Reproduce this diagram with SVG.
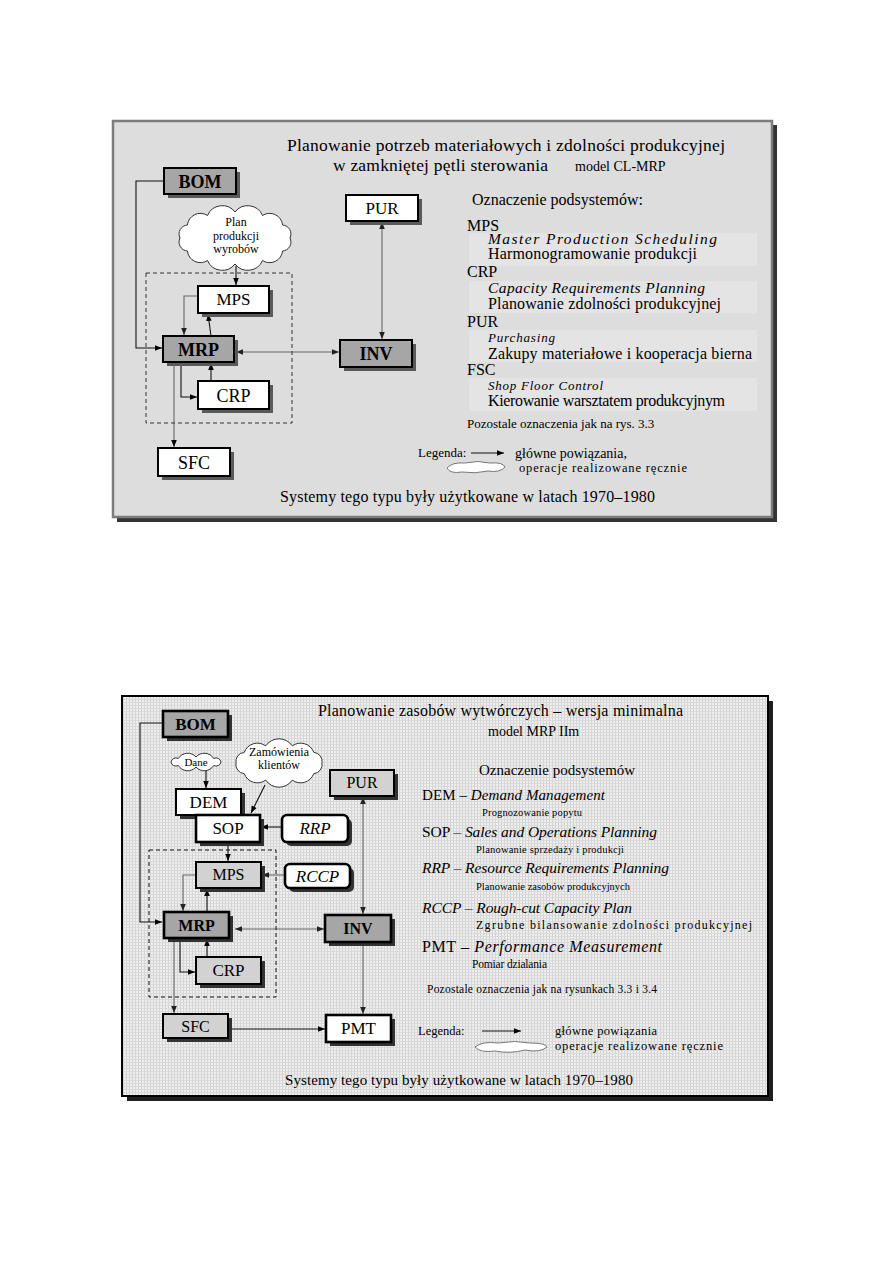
<svg xmlns="http://www.w3.org/2000/svg" width="893" height="1263" viewBox="0 0 893 1263">
<style>
.t{font-family:"Liberation Serif","Times New Roman",serif;fill:#000}
.m{text-anchor:middle}
.b{font-weight:bold}
.i{font-style:italic}
.bx{stroke:#000;stroke-width:2}
.bxt{stroke:#000;stroke-width:2.6}
.w{fill:#fff}
.g{fill:#a6a6a6}
.lg{fill:#d2d2d2}
.sh{fill:#5a5a5a}
.sh2{fill:#333}
.c{fill:none;stroke:#111;stroke-width:1.1}
.cg{fill:none;stroke:#666;stroke-width:1.1}
.cloud{fill:#fff;stroke:#333;stroke-width:1}
.lcloud{fill:#fff;stroke:#777;stroke-width:1}
.band{fill:#e4e4e4}
</style>
<defs>
<marker id="ah" viewBox="0 0 10 10" refX="10" refY="5" markerUnits="userSpaceOnUse" markerWidth="7" markerHeight="7" orient="auto-start-reverse"><path d="M0,1 L10,5 L0,9 z" fill="#000"/></marker>
<marker id="ahg" viewBox="0 0 10 10" refX="10" refY="5" markerUnits="userSpaceOnUse" markerWidth="7" markerHeight="7" orient="auto-start-reverse"><path d="M0,1 L10,5 L0,9 z" fill="#222"/></marker>
<pattern id="tex" width="3" height="3" patternUnits="userSpaceOnUse"><rect width="3" height="3" fill="#eeeeee"/><rect width="1" height="3" fill="#d3d3d3"/><rect width="3" height="1" fill="#dadada"/></pattern>
</defs>

<!-- ================= TOP PANEL ================= -->
<g id="panel-top">
<rect x="117" y="125" width="660" height="397" fill="#333"/>
<rect x="113" y="121" width="659" height="396" fill="#dddddd" stroke="#7c7c7c" stroke-width="2.5"/>
<rect class="band" x="469" y="233" width="288" height="33"/>
<rect class="band" x="469" y="281" width="288" height="32"/>
<rect class="band" x="469" y="330" width="288" height="32"/>
<rect class="band" x="469" y="378" width="288" height="33"/>
<text class="t" x="287" y="151" font-size="17.5" textLength="438">Planowanie potrzeb materiałowych i zdolności produkcyjnej</text>
<text class="t" x="333" y="171" font-size="17.5" textLength="215">w zamkniętej pętli sterowania</text>
<text class="t" x="575" y="171" font-size="14">model CL-MRP</text>
<text class="t" x="472" y="205" font-size="16">Oznaczenie podsystemów:</text>
<text class="t" x="467" y="231" font-size="16">MPS</text>
<text class="t i" x="488" y="244" font-size="15.5" textLength="229">Master Production Scheduling</text>
<text class="t" x="488" y="259" font-size="16" textLength="209">Harmonogramowanie produkcji</text>
<text class="t" x="467" y="277" font-size="16">CRP</text>
<text class="t i" x="488" y="293" font-size="15.5" textLength="217">Capacity Requirements Planning</text>
<text class="t" x="488" y="309" font-size="16" textLength="233">Planowanie zdolności produkcyjnej</text>
<text class="t" x="467" y="327" font-size="16">PUR</text>
<text class="t i" x="488" y="342" font-size="13" textLength="67">Purchasing</text>
<text class="t" x="488" y="359" font-size="16" textLength="264">Zakupy materiałowe i kooperacja bierna</text>
<text class="t" x="467" y="375" font-size="16">FSC</text>
<text class="t i" x="488" y="390" font-size="13" textLength="115">Shop Floor Control</text>
<text class="t" x="488" y="406" font-size="16" textLength="237">Kierowanie warsztatem produkcyjnym</text>
<text class="t" x="467" y="428" font-size="13">Pozostale oznaczenia jak na rys. 3.3</text>
<text class="t" x="418" y="457" font-size="13">Legenda:</text>
<line class="c" x1="471" y1="453" x2="504" y2="453" marker-end="url(#ah)"/>
<text class="t" x="515" y="458" font-size="14">główne powiązania,</text>
<path class="lcloud" d="M447,468 Q452,462 465,463 Q478,460 490,463 Q503,462 505,467 Q500,473 488,471 Q475,474 462,472 Q450,474 447,468 Z"/>
<text class="t" x="519" y="472" font-size="12.5" textLength="168">operacje realizowane ręcznie</text>
<text class="t" x="280" y="502" font-size="16" textLength="375">Systemy tego typu były użytkowane w latach 1970–1980</text>
</g>

<g id="connectors-top">
<polyline class="c" points="164,181 136,181 136,348 162,348" marker-end="url(#ah)"/>
<line class="c" x1="236" y1="266" x2="236" y2="285" stroke-width="2" marker-end="url(#ah)"/>
<polyline class="cg" points="198,296 184,296 184,335" marker-end="url(#ahg)"/>
<line class="c" x1="211" y1="336" x2="208" y2="314" marker-end="url(#ah)"/>
<line class="cg" x1="236" y1="352" x2="339" y2="352" marker-start="url(#ahg)" marker-end="url(#ahg)"/>
<line class="cg" x1="382" y1="222" x2="382" y2="339" marker-start="url(#ahg)" marker-end="url(#ahg)"/>
<polyline class="c" points="181,362 181,397 197,397" marker-end="url(#ah)"/>
<line class="c" x1="211" y1="381" x2="211" y2="363" marker-end="url(#ah)"/>
<line class="cg" x1="174" y1="363" x2="174" y2="447" marker-end="url(#ah)"/>
</g>

<rect id="group-top" x="146" y="273" width="146" height="150" fill="none" stroke="#333" stroke-width="1" stroke-dasharray="4,3"/>

<g id="cloud-plan">
<path class="cloud" d="M290,238 A9,9 0 0 1 282.6,251 A13,13 0 0 1 262.5,260.5 A16,16 0 0 1 235,264 A16,16 0 0 1 207.5,260.5 A13,13 0 0 1 187.4,251 A9,9 0 0 1 180,238 A9,9 0 0 1 187.4,225 A13,13 0 0 1 207.5,215.5 A16,16 0 0 1 235,212 A16,16 0 0 1 262.5,215.5 A13,13 0 0 1 282.6,225 A9,9 0 0 1 290,238 Z"/>
<text class="t m" x="236" y="226" font-size="12">Plan</text>
<text class="t m" x="236" y="239.5" font-size="12">produkcji</text>
<text class="t m" x="236" y="253" font-size="12">wyrobów</text>
</g>

<g id="t-BOM"><rect class="sh" x="168" y="172" width="72" height="26"/><rect class="bx g" x="164" y="168" width="72" height="26"/><text class="t m b" x="200" y="188" font-size="18">BOM</text></g>
<g id="t-PUR"><rect class="sh" x="350" y="199" width="72" height="26"/><rect class="bx w" x="346" y="195" width="72" height="26"/><text class="t m" x="382" y="214" font-size="17">PUR</text></g>
<g id="t-MPS"><rect class="sh" x="202" y="290" width="71" height="27"/><rect class="bx w" x="198" y="286" width="71" height="27"/><text class="t m" x="233.5" y="305" font-size="17">MPS</text></g>
<g id="t-MRP"><rect class="sh" x="167" y="340" width="71" height="26"/><rect class="bx g" x="163" y="336" width="71" height="26"/><text class="t m b" x="198.5" y="356" font-size="18">MRP</text></g>
<g id="t-INV"><rect class="sh" x="344" y="344" width="72" height="27"/><rect class="bx g" x="340" y="340" width="72" height="27"/><text class="t m b" x="376" y="360" font-size="18">INV</text></g>
<g id="t-CRP"><rect class="sh" x="202" y="385" width="71" height="28"/><rect class="bx w" x="198" y="381" width="71" height="28"/><text class="t m" x="233.5" y="402" font-size="18">CRP</text></g>
<g id="t-SFC"><rect class="sh" x="162" y="452" width="72" height="28"/><rect class="bx w" x="158" y="448" width="72" height="28"/><text class="t m" x="194" y="469" font-size="18">SFC</text></g>

<!-- ================= BOTTOM PANEL ================= -->
<g id="panel-bottom">
<rect x="127" y="701" width="646" height="400" fill="#1e1e1e"/>
<rect x="122" y="696" width="646" height="400" fill="url(#tex)" stroke="#000" stroke-width="2"/>
<text class="t" x="318" y="716" font-size="16" textLength="365">Planowanie zasobów wytwórczych – wersja minimalna</text>
<text class="t" x="488" y="736" font-size="14">model MRP IIm</text>
<text class="t" x="479" y="775" font-size="15">Oznaczenie podsystemów</text>
<text class="t" x="422" y="800" font-size="15" textLength="183">DEM – <tspan class="i">Demand Management</tspan></text>
<text class="t" x="482" y="816" font-size="10.5" textLength="100">Prognozowanie popytu</text>
<text class="t" x="422" y="837" font-size="15.5" textLength="235">SOP – <tspan class="i">Sales and Operations Planning</tspan></text>
<text class="t" x="476" y="853" font-size="10.5" textLength="148">Planowanie sprzedaży i produkcji</text>
<text class="t i" x="422" y="873" font-size="15.5" textLength="247">RRP – Resource Requirements Planning</text>
<text class="t" x="476" y="890" font-size="10.5" textLength="154">Planowanie zasobów produkcyjnych</text>
<text class="t i" x="422" y="913" font-size="15.5" textLength="210">RCCP – Rough-cut Capacity Plan</text>
<text class="t" x="476" y="929" font-size="12" textLength="276">Zgrubne bilansowanie zdolności produkcyjnej</text>
<text class="t" x="422" y="952" font-size="16" textLength="240">PMT – <tspan class="i">Performance Measurement</tspan></text>
<text class="t" x="472" y="968" font-size="11.5" textLength="75">Pomiar dzialania</text>
<text class="t" x="427" y="993" font-size="11.5" textLength="230">Pozostale oznaczenia jak na rysunkach 3.3 i 3.4</text>
<text class="t" x="418" y="1035" font-size="12.5">Legenda:</text>
<line class="c" x1="482" y1="1031" x2="521" y2="1031" marker-end="url(#ah)"/>
<text class="t" x="555" y="1035" font-size="12.5" textLength="102">główne powiązania</text>
<path class="lcloud" d="M475,1047 Q482,1041 498,1043 Q515,1040 530,1043 Q546,1043 547,1047 Q540,1053 525,1050 Q510,1054 495,1051 Q480,1053 475,1047 Z"/>
<text class="t" x="555" y="1050" font-size="12.5" textLength="168">operacje realizowane ręcznie</text>
<text class="t" x="285" y="1085" font-size="15" textLength="348">Systemy tego typu były użytkowane w latach 1970–1980</text>
</g>

<g id="connectors-bottom">
<polyline class="c" points="163,723 140,723 140,922 162,922" marker-end="url(#ah)"/>
<line class="c" x1="206" y1="770" x2="206" y2="788" marker-end="url(#ah)"/>
<line class="c" x1="265" y1="785" x2="251" y2="813" marker-end="url(#ah)"/>
<line class="c" x1="282" y1="827" x2="261" y2="827" marker-end="url(#ah)"/>
<line class="c" x1="228" y1="842" x2="228" y2="861" marker-end="url(#ah)"/>
<line class="cg" x1="285" y1="875" x2="262" y2="875" marker-end="url(#ahg)"/>
<polyline class="cg" points="196,875 183,875 183,911" marker-end="url(#ahg)"/>
<line class="c" x1="207" y1="912" x2="207" y2="889" marker-end="url(#ah)"/>
<line class="cg" x1="235" y1="929" x2="324" y2="929" marker-start="url(#ahg)" marker-end="url(#ahg)"/>
<line class="cg" x1="363" y1="797" x2="363" y2="914" marker-start="url(#ahg)" marker-end="url(#ahg)"/>
<line class="cg" x1="363" y1="942" x2="363" y2="1014" marker-end="url(#ahg)"/>
<polyline class="c" points="180,938 180,972 195,972" marker-end="url(#ah)"/>
<line class="c" x1="207" y1="957" x2="207" y2="939" marker-end="url(#ah)"/>
<line class="cg" x1="174" y1="938" x2="174" y2="1013" marker-end="url(#ahg)"/>
<line class="c" x1="229" y1="1029" x2="325" y2="1029" marker-end="url(#ah)"/>
</g>

<rect id="group-bottom" x="149" y="850" width="127" height="147" fill="none" stroke="#111" stroke-width="1" stroke-dasharray="4,3"/>

<g id="cloud-dane">
<path class="cloud" d="M221,762 A5,5 0 0 1 213.7,765.5 A11,11 0 0 1 196,767 A11,11 0 0 1 178.3,765.5 A5,5 0 0 1 171,762 A5,5 0 0 1 178.3,758.5 A11,11 0 0 1 196,757 A11,11 0 0 1 213.7,758.5 A5,5 0 0 1 221,762 Z"/>
<text class="t m" x="196" y="766" font-size="11">Dane</text>
</g>
<g id="cloud-zamowienia">
<path class="cloud" d="M322,763 A9,9 0 0 1 313.8,773.6 A14,14 0 0 1 292.3,780.1 A16,16 0 0 1 265.7,780.1 A14,14 0 0 1 244.2,773.6 A9,9 0 0 1 236,763 A9,9 0 0 1 244.2,752.4 A14,14 0 0 1 265.7,745.9 A16,16 0 0 1 292.3,745.9 A14,14 0 0 1 313.8,752.4 A9,9 0 0 1 322,763 Z"/>
<text class="t m" x="279" y="756" font-size="12">Zamówienia</text>
<text class="t m" x="279" y="769" font-size="12">klientów</text>
</g>

<g id="b-BOM"><rect class="sh2" x="167" y="715" width="65" height="26"/><rect class="bxt g" x="163" y="711" width="65" height="26"/><text class="t m b" x="195.5" y="730" font-size="17">BOM</text></g>
<g id="b-DEM"><rect class="sh2" x="180" y="793" width="65" height="26"/><rect class="bx w" x="176" y="789" width="65" height="26"/><text class="t m" x="208.5" y="808" font-size="17">DEM</text></g>
<g id="b-SOP"><rect class="sh2" x="200" y="819" width="64" height="27"/><rect class="bxt w" x="196" y="815" width="64" height="27"/><text class="t m" x="228" y="834" font-size="17">SOP</text></g>
<g id="b-RRP"><rect class="sh2" x="286" y="819" width="66" height="27" rx="5"/><rect class="bxt w" x="282" y="815" width="66" height="27" rx="5"/><text class="t m i" x="315" y="834" font-size="17">RRP</text></g>
<g id="b-PUR"><rect class="sh2" x="334" y="774" width="64" height="26"/><rect class="bx lg" x="330" y="770" width="64" height="26"/><text class="t m" x="362" y="788" font-size="16">PUR</text></g>
<g id="b-MPS"><rect class="sh2" x="200" y="866" width="65" height="26"/><rect class="bx lg" x="196" y="862" width="65" height="26"/><text class="t m" x="228.5" y="880" font-size="16">MPS</text></g>
<g id="b-RCCP"><rect class="sh2" x="289" y="868" width="65" height="24" rx="5"/><rect class="bxt w" x="285" y="864" width="65" height="24" rx="5"/><text class="t m i" x="317.5" y="882" font-size="17">RCCP</text></g>
<g id="b-MRP"><rect class="sh2" x="168" y="916" width="65" height="26"/><rect class="bxt g" x="164" y="912" width="65" height="26"/><text class="t m b" x="196.5" y="931" font-size="16">MRP</text></g>
<g id="b-INV"><rect class="sh2" x="329" y="919" width="66" height="27"/><rect class="bxt g" x="325" y="915" width="66" height="27"/><text class="t m b" x="358" y="934" font-size="16">INV</text></g>
<g id="b-CRP"><rect class="sh2" x="200" y="961" width="65" height="27"/><rect class="bx lg" x="196" y="957" width="65" height="27"/><text class="t m" x="228.5" y="976" font-size="17">CRP</text></g>
<g id="b-SFC"><rect class="sh2" x="167" y="1018" width="65" height="24"/><rect class="bx lg" x="163" y="1014" width="65" height="24"/><text class="t m" x="195.5" y="1032" font-size="16">SFC</text></g>
<g id="b-PMT"><rect class="sh2" x="330" y="1019" width="65" height="27"/><rect class="bxt w" x="326" y="1015" width="65" height="27"/><text class="t m" x="358.5" y="1034" font-size="17">PMT</text></g>
</svg>
